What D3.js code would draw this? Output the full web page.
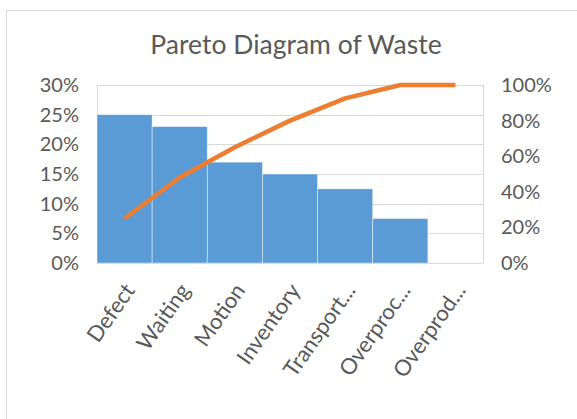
<!DOCTYPE html>
<head>
  <meta charset="utf-8">
  <script src="https://d3js.org/d3.v7.min.js"></script>
  <style>
    body { margin:0; background:#fff; }
    text { font-family: Lato, "Open Sans", sans-serif; fill:#595959; }
  </style>
</head>
<body>
<script>

/* Data */
/* ==== */

var categories = ['Defect', 'Waiting', 'Motion', 'Inventory', 'Transport...', 'Overproc...', 'Overprod...'];
var share      = [0.25, 0.23, 0.17, 0.15, 0.125, 0.075, 0];      // bars, left axis
var cumulative = [0.25, 0.48, 0.65, 0.80, 0.925, 1.00, 1.00];    // line, right axis
var leftTicks  = [0, 0.05, 0.10, 0.15, 0.20, 0.25, 0.30];
var rightTicks = [0, 0.2, 0.4, 0.6, 0.8, 1.0];
var title = 'Pareto Diagram of Waste';


/* Set up */
/* ====== */

var width = 577,
    height = 419,
    plot = { left: 97, right: 483, top: 85, bottom: 263 };

var svg = d3.select('body')
  .append('svg')
    .attr('width', width)
    .attr('height', height);

// chart frame (runs off the right/bottom edge like the screenshot)
svg.append('rect')
    .attr('x', 6.5)
    .attr('y', 10.5)
    .attr('width', 700)
    .attr('height', 600)
    .attr('fill', '#fff')
    .attr('stroke', '#d9d9d9')
    .attr('stroke-width', 1);

svg.append('text')
    .attr('x', 296)
    .attr('y', 54)
    .attr('text-anchor', 'middle')
    .style('font-size', '26.5px')
    .text(title);

var x = d3.scaleBand()
    .domain(categories)
    .range([plot.left, plot.right])
    .padding(0);

var yLeft = d3.scaleLinear()
    .domain([0, 0.30])
    .range([plot.bottom, plot.top]);

var yRight = d3.scaleLinear()
    .domain([0, 1])
    .range([plot.bottom, plot.top]);


// gridlines
svg.append('g')
    .selectAll('line')
    .data(leftTicks)
    .enter().append('line')
    .attr('x1', plot.left)
    .attr('x2', plot.right)
    .attr('y1', function(d) { return Math.round(yLeft(d)) + 0.5; })
    .attr('y2', function(d) { return Math.round(yLeft(d)) + 0.5; })
    .attr('stroke', '#d9d9d9')
    .attr('stroke-width', 1);

// vertical axis lines
[plot.left, plot.right].forEach(function(px) {
  svg.append('line')
      .attr('x1', px + 0.5).attr('x2', px + 0.5)
      .attr('y1', plot.top).attr('y2', plot.bottom + 0.5)
      .attr('stroke', '#d9d9d9');
});


// Bars
svg.selectAll('rect.bar')
    .data(share)
    .enter().append('rect')
    .attr('class', 'bar')
    .attr('x', function(d, i) { return x(categories[i]); })
    .attr('width', x.bandwidth())
    .attr('y', function(d) { return yLeft(d); })
    .attr('height', function(d) { return plot.bottom - yLeft(d); })
    .attr('fill', '#5b9bd5')
    .attr('stroke', '#ffffff')
    .attr('stroke-opacity', 0.6)
    .attr('stroke-width', 0.75);


// Cumulative line
var line = d3.line()
    .x(function(d, i) { return x(categories[i]) + x.bandwidth() / 2; })
    .y(function(d) { return yRight(d); });

svg.append('path')
    .datum(cumulative)
    .attr('d', line)
    .attr('fill', 'none')
    .attr('stroke', '#ed7d31')
    .attr('stroke-width', 4.5)
    .attr('stroke-linejoin', 'round');


// Axes
var leftAxis = d3.axisLeft(yLeft)
    .tickValues(leftTicks)
    .tickFormat(d3.format('.0%'))
    .tickSize(0)
    .tickPadding(18);

var gl = svg.append('g')
    .attr('transform', 'translate(' + plot.left + ',0)')
    .call(leftAxis);

var rightAxis = d3.axisRight(yRight)
    .tickValues(rightTicks)
    .tickFormat(d3.format('.0%'))
    .tickSize(0)
    .tickPadding(18);

var gr = svg.append('g')
    .attr('transform', 'translate(' + plot.right + ',0)')
    .call(rightAxis);

var bottomAxis = d3.axisBottom(x)
    .tickSize(0)
    .tickPadding(0);

var gb = svg.append('g')
    .attr('transform', 'translate(0,' + plot.bottom + ')')
    .call(bottomAxis);

[gl, gr, gb].forEach(function(g) {
  g.select('.domain').remove();
  g.selectAll('text')
      .style('font-size', '20px')
      .attr('fill', '#595959')
      .style('font-family', 'Lato, "Open Sans", sans-serif');
});

gb.selectAll('text')
    .style('font-size', '22px')
    .attr('text-anchor', 'end')
    .attr('dy', '0.35em')
    .attr('y', 0)
    .attr('transform', 'translate(5,23) rotate(-55)');

// bottom axis line
svg.append('line')
    .attr('x1', plot.left).attr('x2', plot.right)
    .attr('y1', plot.bottom + 0.5).attr('y2', plot.bottom + 0.5)
    .attr('stroke', '#d9d9d9');

</script>
</body>
